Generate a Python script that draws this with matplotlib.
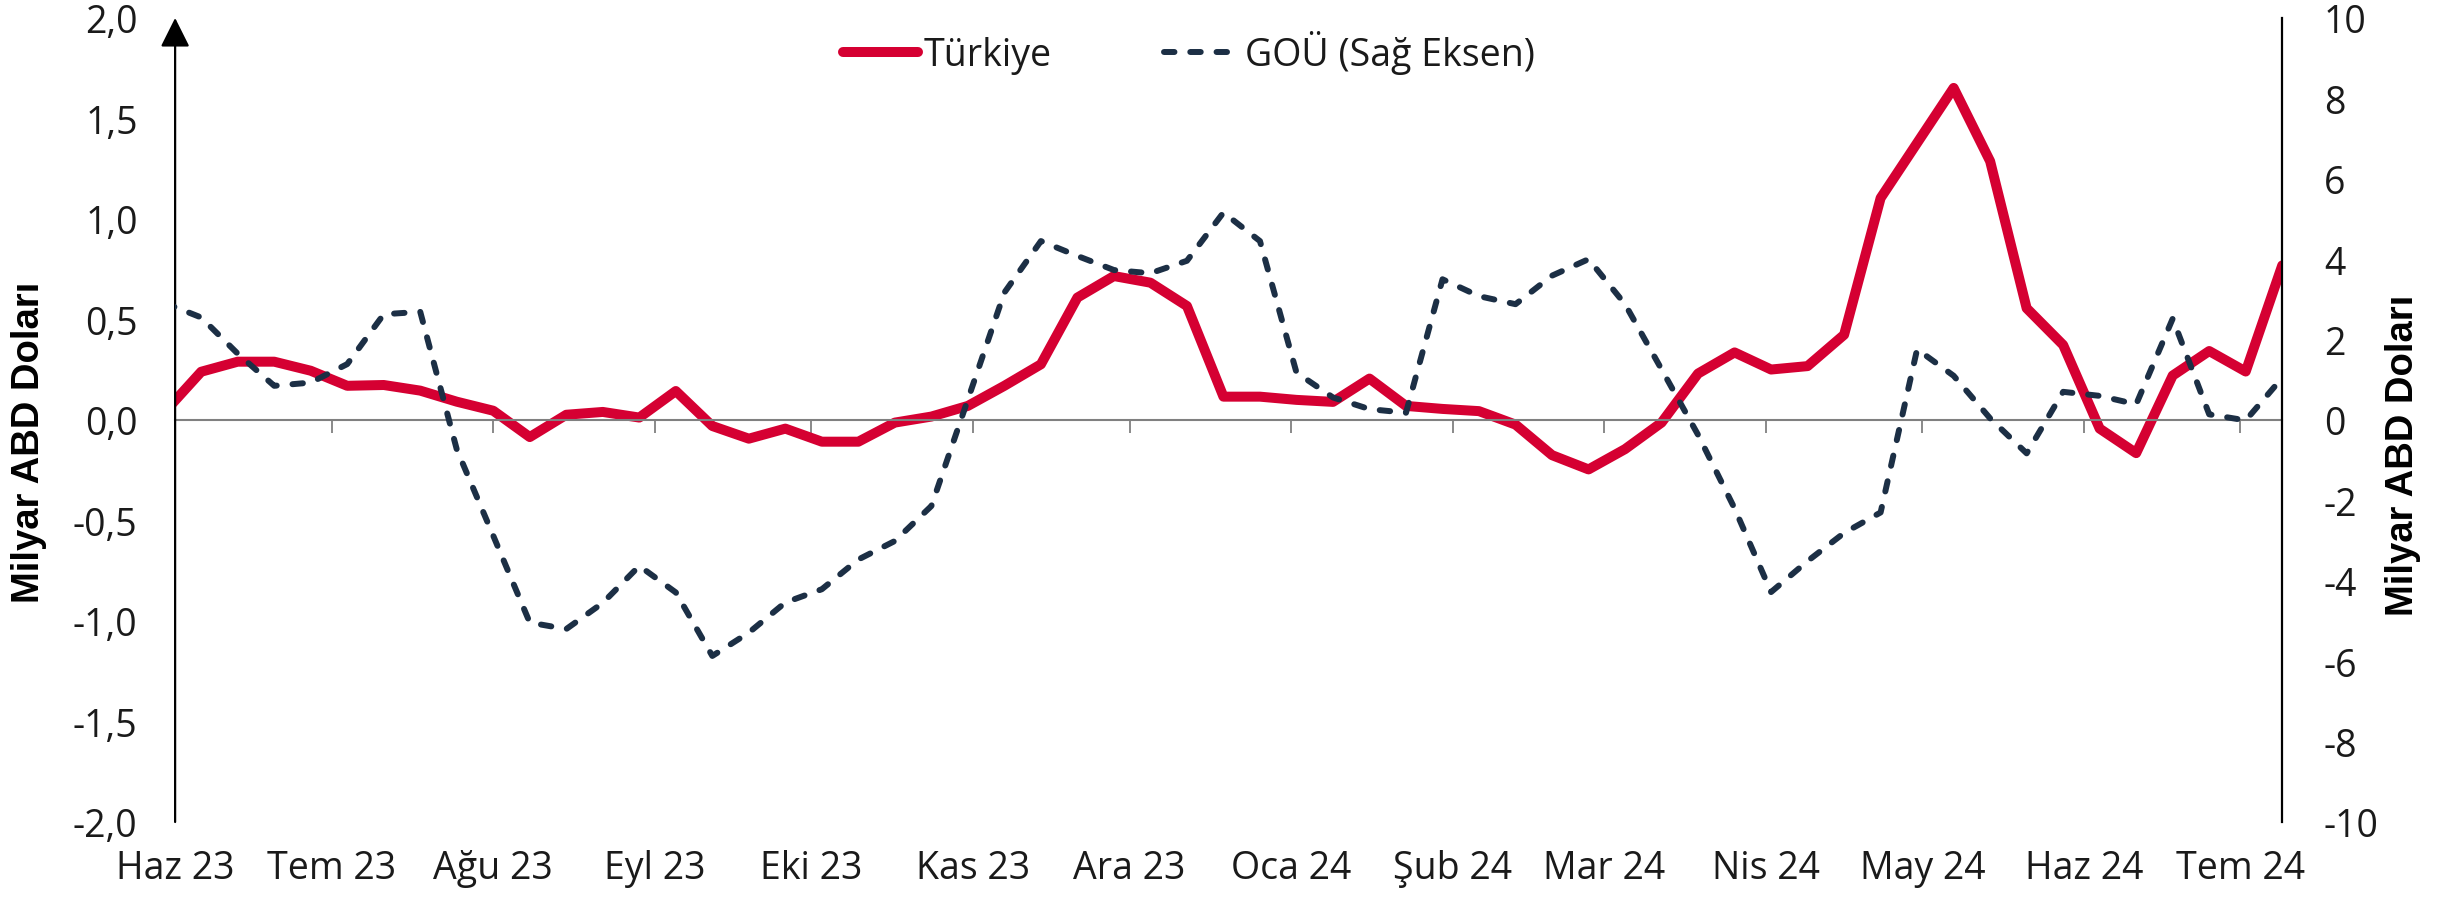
import matplotlib.pyplot as plt
import numpy as np
import pandas as pd

# haftalık seriler (milyar ABD doları)
dates = pd.date_range('2023-05-30', periods=59, freq='7D')

turkiye = [0.04, 0.24, 0.29, 0.29, 0.245, 0.17, 0.174, 0.146, 0.091, 0.046,
           -0.085, 0.026, 0.04, 0.012, 0.144, -0.03, -0.093, -0.043, -0.108, -0.108,
           -0.013, 0.017, 0.07, 0.17, 0.277, 0.609, 0.716, 0.683, 0.567, 0.116,
           0.116, 0.10, 0.09, 0.206, 0.07, 0.055, 0.044, -0.023, -0.175, -0.246,
           -0.145, -0.013, 0.231, 0.336, 0.251, 0.268, 0.424, 1.104, 1.378, 1.652,
           1.287, 0.556, 0.373, -0.043, -0.165, 0.221, 0.343, 0.241, 0.769]

gou = [2.91, 2.55, 1.65, 0.85, 0.93, 1.39, 2.63, 2.69, -0.73, -2.88,
       -5.04, -5.2, -4.55, -3.63, -4.29, -5.87, -5.29, -4.54, -4.21, -3.47,
       -3.01, -2.14, 0.51, 3.17, 4.45, 4.08, 3.73, 3.65, 3.96, 5.16,
       4.45, 1.18, 0.56, 0.27, 0.18, 3.50, 3.08, 2.88, 3.59, 4.0,
       2.88, 1.26, -0.37, -2.2, -4.28, -3.51, -2.81, -2.30, 1.76, 1.10,
       0.04, -0.83, 0.70, 0.60, 0.39, 2.52, 0.14, -0.01, 1.05]

month_starts = pd.date_range('2023-06-01', periods=14, freq='MS')
month_labels = ['Haz 23', 'Tem 23', 'Ağu 23', 'Eyl 23', 'Eki 23', 'Kas 23', 'Ara 23',
                'Oca 24', 'Şub 24', 'Mar 24', 'Nis 24', 'May 24', 'Haz 24', 'Tem 24']

left_ticks = np.arange(-2.0, 2.01, 0.5)
right_ticks = np.arange(-10, 11, 2)

plt.rcParams['font.family'] = ['Open Sans', 'DejaVu Sans']
text_color = '#1a1a1a'
fs = 27

fig = plt.figure(figsize=(24.63, 9.03), dpi=100)
ax = fig.add_axes([0.0711, 0.0886, 0.8555, 0.8904])
ax2 = ax.twinx()

l1, = ax.plot(dates, turkiye, color='#d50032', lw=7.2, solid_capstyle='round',
              solid_joinstyle='round', label='Türkiye')
l2, = ax2.plot(dates, gou, color='#1c2f45', lw=4.3, linestyle=(0, (1.75, 2.65)),
               dash_capstyle='round', label='GOÜ (Sağ Eksen)')

ax.set_xlim(pd.Timestamp('2023-06-01'), dates[-1])
ax.set_ylim(-2, 2)
ax2.set_ylim(-10, 10)

# sıfır çizgisi = alt eksen
for s in ['top', 'right', 'left']:
    ax.spines[s].set_visible(False)
ax.spines['bottom'].set_position(('data', 0))
ax.spines['bottom'].set_color('#808080')
ax.spines['bottom'].set_linewidth(1.5)
for s in ['top', 'left', 'bottom']:
    ax2.spines[s].set_visible(False)
ax2.spines['right'].set_color('black')
ax2.spines['right'].set_linewidth(1.6)

# sol eksen okla
ax.annotate('', xy=(0, 1), xytext=(0, 0), xycoords='axes fraction',
            arrowprops=dict(arrowstyle='-|>,head_length=1.0,head_width=0.5',
                            color='black', lw=1.6, shrinkA=0, shrinkB=0,
                            mutation_scale=18))

ax.set_xticks(month_starts)
ax.set_xticklabels(month_labels)
ax.tick_params(axis='x', direction='out', length=9, width=1.3, color='#808080',
               pad=300, labelsize=fs, labelcolor=text_color)

ax.set_yticks(left_ticks)
ax.set_yticklabels([f'{v:.1f}'.replace('.', ',') for v in left_ticks])
ax.tick_params(axis='y', length=0, pad=27, labelsize=fs, labelcolor=text_color)

ax2.set_yticks(right_ticks)
ax2.set_yticklabels([f'{v:d}' for v in right_ticks])
ax2.tick_params(axis='y', length=0, pad=30, labelsize=fs, labelcolor=text_color)

label_kw = dict(rotation=90, ha='center', va='center', fontweight='bold',
                family=['Liberation Sans', 'DejaVu Sans'], fontsize=27.5, color='black')
fig.text(0.0116, 0.5105, 'Milyar ABD Doları', **label_kw)
fig.text(0.9756, 0.496, 'Milyar ABD Doları', **label_kw)

fig.legend(handles=[l1, l2], loc='center', bbox_to_anchor=(0.4826, 0.941), ncol=2,
           frameon=False, fontsize=fs, handlelength=2.0, handletextpad=0.15,
           columnspacing=3.0, labelcolor=text_color)

fig.savefig('out.png', dpi=100)
